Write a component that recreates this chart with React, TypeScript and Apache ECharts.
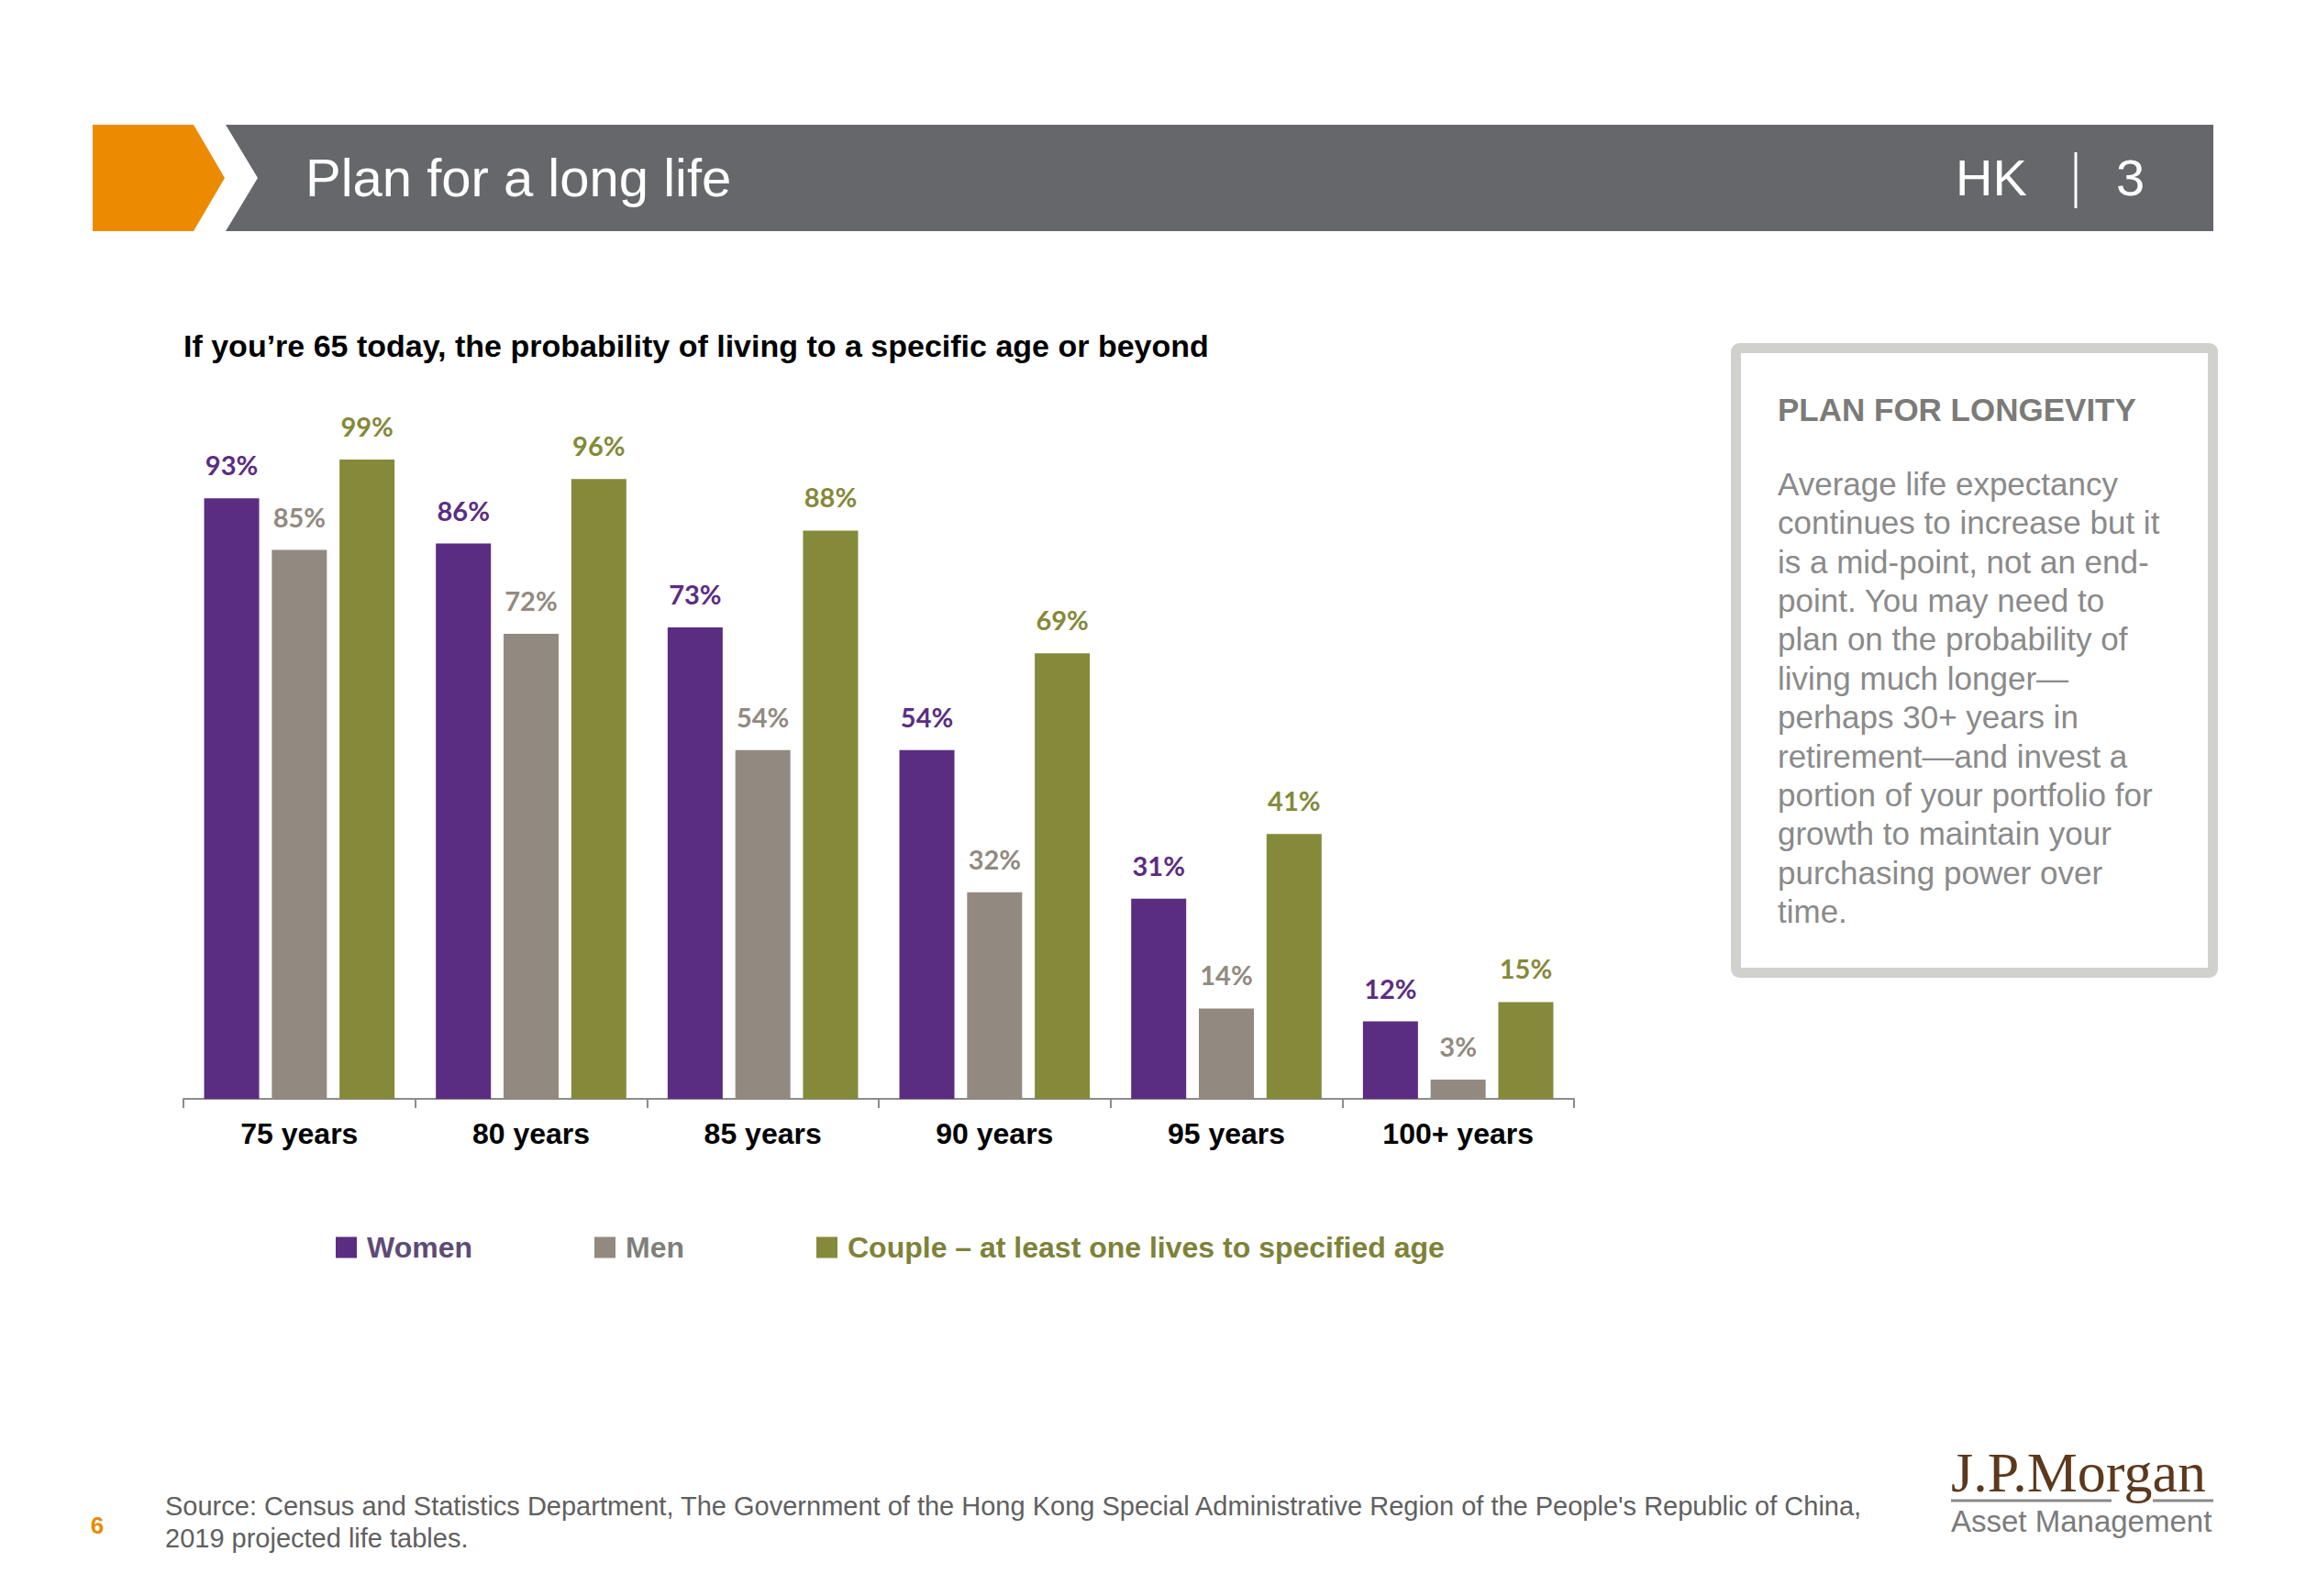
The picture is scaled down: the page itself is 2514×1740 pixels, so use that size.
import React, { useEffect, useRef } from "react";
import * as echarts from "echarts";

const categories = ["75 years", "80 years", "85 years", "90 years", "95 years", "100+ years"];
const seriesNames = ["Women", "Men", "Couple – at least one lives to specified age"];
const women = [93, 86, 73, 54, 31, 12];
const men = [85, 72, 54, 32, 14, 3];
const couple = [99, 96, 88, 69, 41, 15];

const barColors = ["#5A2D82", "#928A80", "#85893A"];
const legendTextColors = ["#5D4B75", "#7F7F7B", "#7E8238"];
const legendLefts = [366, 648, 890];

const chartTitle = "If you\u2019re 65 today, the probability of living to a specific age or beyond";
const headerTitle = "Plan for a long life";
const sideHeading = "PLAN FOR LONGEVITY";
const sideLines = [
  "Average life expectancy",
  "continues to increase but it",
  "is a mid-point, not an end-",
  "point. You may need to",
  "plan on the probability of",
  "living much longer\u2014",
  "perhaps 30+ years in",
  "retirement\u2014and invest a",
  "portion of your portfolio for",
  "growth to maintain your",
  "purchasing power over",
  "time.",
];
const sourceLines = [
  "Source: Census and Statistics Department, The Government of the Hong Kong Special Administrative Region of the People's Republic of China,",
  "2019 projected life tables.",
];

const SANS = "'Liberation Sans', Arial, Helvetica, sans-serif";

export default function App() {
  const ref = useRef<HTMLDivElement>(null);

  useEffect(() => {
    if (!ref.current) return;
    const chart = echarts.init(ref.current, null, { renderer: "svg" });
    const data = [women, men, couple];

    const option: any = {
      animation: false,
      backgroundColor: "#ffffff",
      title: {
        text: chartTitle,
        left: 200,
        top: 360,
        padding: 0,
        textStyle: { fontFamily: SANS, fontSize: 34, fontWeight: "bold", color: "#000000" },
      },
      legend: seriesNames.map((name, i) => ({
        data: [{ name, icon: "rect" }],
        left: legendLefts[i],
        top: 1344,
        padding: 0,
        itemWidth: 23,
        itemHeight: 23,
        selectedMode: false,
        textStyle: {
          fontFamily: SANS,
          fontSize: 32,
          fontWeight: "bold",
          color: legendTextColors[i],
          padding: [0, 0, 0, 6],
        },
      })),
      grid: { left: 200, top: 494, width: 1516, height: 704 },
      xAxis: {
        type: "category",
        data: categories,
        axisLine: { lineStyle: { color: "#8C8C8C", width: 2 } },
        axisTick: { show: true, length: 10, lineStyle: { color: "#8C8C8C", width: 2 } },
        axisLabel: {
          margin: 22,
          fontFamily: SANS,
          fontSize: 32,
          fontWeight: "bold",
          color: "#000000",
        },
      },
      yAxis: { type: "value", min: 0, max: 100, show: false },
      series: seriesNames.map((name, i) => ({
        name,
        type: "bar",
        data: data[i],
        barWidth: 60,
        barGap: "23%",
        itemStyle: { color: barColors[i] },
        label: {
          show: true,
          position: "top",
          distance: 22,
          formatter: "{c}%",
          fontFamily: "Lato, 'Open Sans', sans-serif",
          fontWeight: "bold",
          fontSize: 29,
          color: barColors[i],
        },
      })),
      graphic: [
        {
          type: "polygon",
          shape: { points: [[101, 136], [211, 136], [245, 194], [211, 252], [101, 252]] },
          style: { fill: "#EC8B00" },
        },
        {
          type: "polygon",
          shape: { points: [[246, 136], [2413, 136], [2413, 252], [246, 252], [281, 194]] },
          style: { fill: "#65676B" },
        },
        {
          type: "text",
          x: 333,
          y: 193,
          style: { text: headerTitle, fill: "#ffffff", fontFamily: SANS, fontSize: 58, verticalAlign: "middle" },
        },
        {
          type: "text",
          x: 2132,
          y: 193,
          style: { text: "HK", fill: "#ffffff", fontFamily: SANS, fontSize: 56, verticalAlign: "middle" },
        },
        {
          type: "line",
          shape: { x1: 2263, y1: 166, x2: 2263, y2: 227 },
          style: { stroke: "#ffffff", lineWidth: 3 },
        },
        {
          type: "text",
          x: 2307,
          y: 193,
          style: { text: "3", fill: "#ffffff", fontFamily: SANS, fontSize: 56, verticalAlign: "middle" },
        },
        {
          type: "rect",
          shape: { x: 1892.5, y: 379.5, width: 520, height: 681, r: 4 },
          style: { fill: "#ffffff", stroke: "#D0D0CC", lineWidth: 11 },
        },
        {
          type: "text",
          x: 1938,
          y: 446,
          style: {
            text: sideHeading,
            fill: "#7B7B78",
            fontFamily: SANS,
            fontSize: 35,
            fontWeight: "bold",
            verticalAlign: "middle",
          },
        },
        {
          type: "text",
          x: 1938,
          y: 506,
          style: {
            text: sideLines.join("\n"),
            fill: "#8A8A8A",
            fontFamily: SANS,
            fontSize: 35,
            lineHeight: 42.4,
            verticalAlign: "top",
          },
        },
        {
          type: "text",
          x: 106,
          y: 1663,
          style: {
            text: "6",
            fill: "#E98A00",
            fontFamily: SANS,
            fontSize: 26,
            fontWeight: "bold",
            align: "center",
            verticalAlign: "middle",
          },
        },
        {
          type: "text",
          x: 180,
          y: 1624,
          style: {
            text: sourceLines.join("\n"),
            fill: "#606060",
            fontFamily: SANS,
            fontSize: 29,
            lineHeight: 35,
            verticalAlign: "top",
          },
        },
        {
          type: "text",
          x: 2127,
          y: 1605,
          style: {
            text: "J.P.Morgan",
            fill: "#5C391D",
            fontFamily: "'Liberation Serif', 'DejaVu Serif', serif",
            fontSize: 62,
            verticalAlign: "middle",
          },
        },
        {
          type: "line",
          shape: { x1: 2127, y1: 1636, x2: 2302, y2: 1636 },
          style: { stroke: "#8A8A8A", lineWidth: 3 },
        },
        {
          type: "line",
          shape: { x1: 2347, y1: 1636, x2: 2413, y2: 1636 },
          style: { stroke: "#8A8A8A", lineWidth: 3 },
        },
        {
          type: "text",
          x: 2127,
          y: 1658,
          style: {
            text: "Asset Management",
            fill: "#7B7B7B",
            fontFamily: SANS,
            fontSize: 33,
            verticalAlign: "middle",
          },
        },
      ],
    };

    chart.setOption(option);
    return () => {
      chart.dispose();
    };
  }, []);

  return (
    <div
      ref={ref}
      style={{ position: "fixed", left: 0, top: 0, width: 2514, height: 1740, background: "#ffffff" }}
    />
  );
}
